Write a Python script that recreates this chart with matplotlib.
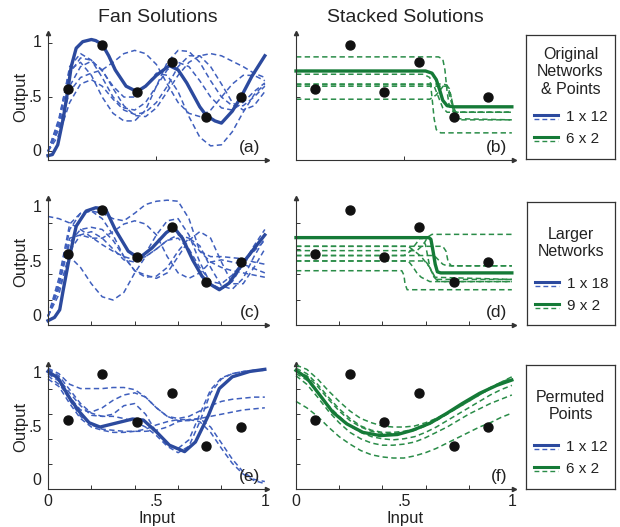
import matplotlib
matplotlib.use("Agg")
import matplotlib.pyplot as plt

plt.rcParams['font.family'] = ['Liberation Sans', 'DejaVu Sans']

# ---------------- data ----------------
pts_x = [0.09, 0.25, 0.41, 0.57, 0.73, 0.89]
pts_y = [0.57, 0.98, 0.55, 0.82, 0.32, 0.50]
pts_y_perm = [0.57, 1.00, 0.55, 0.82, 0.32, 0.50]

grid21 = [0.0, 0.05, 0.1, 0.15, 0.2, 0.25, 0.3, 0.35, 0.4, 0.45, 0.5,
          0.55, 0.6, 0.65, 0.7, 0.75, 0.8, 0.85, 0.9, 0.95, 1.0]

# (a) fan, 1 x 12
a_solid_x = [0, .02, .045, .07, .092, .107, .13, .16, .2, .22, .25, .28, .31, .36, .41,
             .45, .5, .56, .6, .64, .67, .7, .73, .77, .8, .85, .89, .94, 1.0]
a_solid_y = [-0.04, -0.03, 0.06, 0.3, 0.57, 0.78, 0.95, 1.01, 1.03, 1.02, 0.985, 0.88,
             0.75, 0.6, 0.55, 0.6, 0.7, 0.79, 0.75, 0.63, 0.52, 0.41, 0.33, 0.28, 0.26,
             0.37, 0.5, 0.69, 0.88]
a_dash = [
    [0.0, 0.25, 0.72, 0.86, 0.84, 0.74, 0.6, 0.5, 0.5, 0.6, 0.72, 0.7, 0.55, 0.32, 0.13, 0.05, 0.06, 0.18, 0.36, 0.52, 0.62],
    [0.0, 0.2, 0.55, 0.68, 0.72, 0.75, 0.82, 0.9, 0.93, 0.9, 0.8, 0.62, 0.45, 0.35, 0.32, 0.38, 0.5, 0.62, 0.7, 0.7, 0.65],
    [0.0, 0.3, 0.75, 0.82, 0.7, 0.5, 0.35, 0.28, 0.28, 0.38, 0.6, 0.82, 0.93, 0.92, 0.82, 0.65, 0.5, 0.42, 0.42, 0.5, 0.6],
    [0.0, 0.22, 0.6, 0.78, 0.83, 0.75, 0.58, 0.42, 0.33, 0.32, 0.4, 0.55, 0.7, 0.82, 0.88, 0.9, 0.88, 0.83, 0.78, 0.72, 0.68],
    [0.0, 0.15, 0.45, 0.62, 0.66, 0.6, 0.48, 0.38, 0.34, 0.36, 0.45, 0.6, 0.78, 0.88, 0.88, 0.78, 0.62, 0.45, 0.38, 0.42, 0.55],
    [0.0, 0.28, 0.78, 0.9, 0.84, 0.68, 0.5, 0.4, 0.38, 0.45, 0.6, 0.75, 0.82, 0.78, 0.65, 0.5, 0.4, 0.38, 0.45, 0.55, 0.63],
]

# (b) stacked, 6 x 2
b_solid_x = [0, 0.60, 0.63, 0.65, 0.665, 0.68, 0.70, 0.73, 1.0]
b_solid_y = [0.74, 0.74, 0.72, 0.66, 0.57, 0.47, 0.42, 0.41, 0.41]
b_dash = [
    ([0, 0.66, 0.68, 0.69, 0.70, 0.71, 0.73, 1.0], [0.87, 0.87, 0.85, 0.75, 0.55, 0.42, 0.36, 0.36]),
    ([0, 0.59, 0.62, 0.63, 0.64, 0.65, 0.67, 1.0], [0.71, 0.71, 0.68, 0.5, 0.3, 0.2, 0.17, 0.17]),
    ([0, 0.68, 0.70, 0.72, 0.73, 0.75, 1.0], [0.62, 0.62, 0.61, 0.5, 0.35, 0.29, 0.29]),
    ([0, 0.62, 0.64, 0.66, 0.68, 0.70, 1.0], [0.615, 0.615, 0.6, 0.5, 0.4, 0.36, 0.36]),
    ([0, 0.62, 0.65, 0.69, 0.71, 0.73, 0.75, 1.0], [0.48, 0.48, 0.52, 0.62, 0.58, 0.4, 0.3, 0.29]),
    ([0, 0.70, 0.72, 0.74, 1.0], [0.60, 0.60, 0.45, 0.36, 0.36]),
]

# (c) fan, 1 x 18
c_solid_x = [0, .03, .054, .07, .1, .13, .176, .22, .265, .31, .37, .42, .48, .545, .58,
             .62, .667, .71, .74, .79, .835, .9, 1.0]
c_solid_y = [-0.04, -0.01, 0.06, 0.24, 0.557, 0.83, 0.97, 1.0, 0.99, 0.8, 0.6, 0.535,
             0.63, 0.77, 0.82, 0.72, 0.52, 0.37, 0.305, 0.245, 0.305, 0.495, 0.75]
c_dash = [
    [0.92, 0.9, 0.86, 0.8, 0.73, 0.66, 0.6, 0.55, 0.52, 0.55, 0.62, 0.7, 0.75, 0.72, 0.6, 0.5, 0.45, 0.42, 0.4, 0.38, 0.36],
    [0.0, 0.3, 0.8, 0.95, 0.97, 0.95, 0.9, 0.88, 0.95, 1.03, 1.06, 1.07, 1.06, 0.9, 0.6, 0.55, 0.55, 0.54, 0.53, 0.5, 0.48],
    [0.0, 0.25, 0.55, 0.45, 0.3, 0.18, 0.15, 0.22, 0.4, 0.55, 0.62, 0.7, 0.72, 0.62, 0.45, 0.32, 0.3, 0.38, 0.5, 0.6, 0.7],
    [0.0, 0.35, 0.85, 0.95, 0.97, 0.9, 0.75, 0.55, 0.42, 0.38, 0.35, 0.4, 0.55, 0.7, 0.78, 0.72, 0.5, 0.3, 0.3, 0.45, 0.62],
    [0.0, 0.2, 0.6, 0.75, 0.78, 0.72, 0.62, 0.52, 0.5, 0.58, 0.75, 0.88, 0.9, 0.75, 0.5, 0.3, 0.25, 0.32, 0.48, 0.65, 0.8],
    [0.0, 0.3, 0.72, 0.75, 0.72, 0.72, 0.78, 0.85, 0.88, 0.85, 0.75, 0.55, 0.4, 0.35, 0.4, 0.5, 0.52, 0.5, 0.48, 0.44, 0.4],
    [0.0, 0.28, 0.68, 0.8, 0.82, 0.8, 0.7, 0.55, 0.42, 0.36, 0.37, 0.45, 0.6, 0.72, 0.65, 0.45, 0.28, 0.25, 0.35, 0.55, 0.72],
]

# (d) stacked, 9 x 2
d_solid_x = [0, 0.615, 0.625, 0.635, 0.645, 0.655, 0.67, 1.0]
d_solid_y = [0.725, 0.725, 0.71, 0.6, 0.48, 0.41, 0.40, 0.40]
d_dash = [
    ([0, 0.56, 0.59, 0.61, 0.63, 1.0], [0.605, 0.605, 0.66, 0.73, 0.755, 0.755]),
    ([0, 0.68, 0.695, 0.705, 0.72, 1.0], [0.645, 0.645, 0.6, 0.5, 0.465, 0.465]),
    ([0, 0.5, 0.53, 0.56, 0.58, 0.60, 0.62, 0.64, 1.0], [0.56, 0.56, 0.6, 0.68, 0.73, 0.66, 0.45, 0.36, 0.34]),
    ([0, 0.60, 0.62, 0.64, 0.66, 1.0], [0.51, 0.51, 0.45, 0.36, 0.32, 0.32]),
    ([0, 0.49, 0.50, 0.505, 0.515, 1.0], [0.42, 0.42, 0.38, 0.30, 0.245, 0.245]),
    ([0, 0.52, 0.55, 0.58, 0.60, 0.62, 0.65, 1.0], [0.645, 0.645, 0.6, 0.55, 0.5, 0.45, 0.34, 0.34]),
    ([0, 0.64, 0.66, 0.68, 0.70, 1.0], [0.56, 0.56, 0.52, 0.48, 0.465, 0.465]),
    ([0, 0.52, 0.54, 0.56, 0.58, 0.62, 1.0], [0.51, 0.51, 0.46, 0.4, 0.36, 0.32, 0.32]),
]

# (e) fan, permuted points
e_solid_x = [0, .046, .1, .146, .19, .24, .3, .39, .44, .5, .56, .63, .68, .74, .79,
             .85, .93, 1.0]
e_solid_y = [1.02, 0.96, 0.77, 0.64, 0.54, 0.5, 0.53, 0.575, 0.565, 0.455, 0.33,
             0.27, 0.36, 0.61, 0.86, 0.97, 1.02, 1.04]
e_dash = [
    [1.05, 1.0, 0.9, 0.86, 0.86, 0.86, 0.87, 0.87, 0.85, 0.78, 0.68, 0.6, 0.58, 0.6, 0.65, 0.7, 0.74, 0.76, 0.77, 0.78, 0.78],
    [0.98, 0.9, 0.78, 0.66, 0.64, 0.68, 0.75, 0.8, 0.82, 0.78, 0.68, 0.6, 0.56, 0.56, 0.58, 0.6, 0.62, 0.64, 0.66, 0.67, 0.68],
    [1.0, 0.93, 0.75, 0.6, 0.52, 0.48, 0.47, 0.46, 0.46, 0.46, 0.47, 0.5, 0.55, 0.57, 0.58, 0.5, 0.35, 0.2, 0.08, 0.01, -0.01],
    [0.95, 0.88, 0.72, 0.58, 0.5, 0.47, 0.45, 0.45, 0.46, 0.48, 0.52, 0.55, 0.57, 0.57, 0.55, 0.45, 0.3, 0.16, 0.06, 0.0, -0.03],
    [1.04, 0.98, 0.85, 0.72, 0.63, 0.6, 0.62, 0.7, 0.72, 0.62, 0.45, 0.33, 0.3, 0.38, 0.62, 0.85, 0.96, 1.0, 1.02, 1.03, 1.03],
    [1.0, 0.95, 0.82, 0.7, 0.61, 0.6, 0.6, 0.58, 0.55, 0.5, 0.42, 0.32, 0.26, 0.32, 0.55, 0.82, 0.95, 1.0, 1.02, 1.03, 1.04],
]

# (f) stacked, permuted points
f_solid_x = [0, .05, .11, .17, .235, .31, .39, .47, .54, .62, .70, .77, .85, .93, 1.0]
f_solid_y = [1.03, 0.96, 0.8, 0.64, 0.53, 0.45, 0.42, 0.43, 0.47, 0.535, 0.63, 0.72,
             0.815, 0.89, 0.94]
f_dash = [
    [1.08, 1.04, 0.95, 0.84, 0.74, 0.65, 0.58, 0.54, 0.51, 0.5, 0.5, 0.51, 0.54, 0.58, 0.63, 0.68, 0.74, 0.8, 0.86, 0.92, 0.97],
    [1.05, 1.0, 0.9, 0.78, 0.67, 0.58, 0.51, 0.47, 0.45, 0.45, 0.46, 0.48, 0.52, 0.57, 0.63, 0.69, 0.75, 0.81, 0.87, 0.92, 0.96],
    [1.0, 0.94, 0.83, 0.7, 0.6, 0.51, 0.45, 0.41, 0.39, 0.38, 0.39, 0.41, 0.45, 0.5, 0.56, 0.62, 0.68, 0.74, 0.8, 0.85, 0.89],
    [0.98, 0.9, 0.78, 0.65, 0.54, 0.45, 0.39, 0.35, 0.33, 0.33, 0.34, 0.36, 0.4, 0.45, 0.5, 0.56, 0.62, 0.67, 0.72, 0.76, 0.8],
    [0.74, 0.68, 0.6, 0.5, 0.41, 0.34, 0.28, 0.24, 0.22, 0.21, 0.21, 0.23, 0.26, 0.3, 0.35, 0.4, 0.45, 0.5, 0.54, 0.59, 0.63],
    [1.02, 0.98, 0.88, 0.76, 0.65, 0.56, 0.5, 0.46, 0.44, 0.44, 0.45, 0.47, 0.51, 0.56, 0.62, 0.68, 0.74, 0.8, 0.86, 0.91, 0.95],
]

titles = ["Fan Solutions", "Stacked Solutions"]
panel_labels = ["(a)", "(b)", "(c)", "(d)", "(e)", "(f)"]
legend_titles = ["Original\nNetworks\n& Points", "Larger\nNetworks", "Permuted\nPoints"]
legend_entries = [("1 x 12", "6 x 2"), ("1 x 18", "9 x 2"), ("1 x 12", "6 x 2")]

BLUE = "#2c4a9e"
BLUE_D = "#3f5fbd"
GREEN = "#157a37"
GREEN_D = "#2a8c48"
DASH = (0, (3.5, 2.2))

W, H = 620, 527
fig = plt.figure(figsize=(W / 100, H / 100), dpi=100)


def px_axes(l, t, r, b):
    return fig.add_axes([l / W, 1 - b / H, (r - l) / W, (b - t) / H])


YLIM = (-0.08, 1.09)
XLIM = (0, 1.01)


def style_axes(ax, left_col, bottom_row, row):
    ax.set_xlim(*XLIM)
    ax.set_ylim(*YLIM)
    for s in ["top", "right"]:
        ax.spines[s].set_visible(False)
    for s in ["left", "bottom"]:
        ax.spines[s].set_linewidth(0.8)
        ax.spines[s].set_color("#333333")
    ax.tick_params(direction="in", length=3, width=0.7, colors="#333333",
                   labelsize=11, labelcolor="#222222", pad=3)
    if row == 0:
        xt = [0.5]
        yt = [0.5, 0.75] if not left_col else [0, 0.5, 1]
    else:
        xt = [0.2, 0.4, 0.6, 0.8]
        yt = [YLIM[0] + k * (YLIM[1] - YLIM[0]) / 5 for k in range(1, 5)]
    ax.set_xticks(xt)
    ax.set_xticklabels([])
    ax.set_yticks(yt)
    ax.set_yticklabels([])
    if left_col:
        for v, s in [(0, "0"), (0.5, ".5"), (1, "1")]:
            ax.text(-0.03, v, s, transform=ax.get_yaxis_transform(), ha="right",
                    va="center", fontsize=11.5, color="#222222")
        ax.set_ylabel("Output", fontsize=12, labelpad=11, color="#222222")
    if bottom_row:
        for v, s in [(0, "0"), (0.5, ".5"), (1, "1")]:
            ax.text(v, -0.04, s, transform=ax.get_xaxis_transform(), ha="center",
                    va="top", fontsize=11.5, color="#222222")
        ax.set_xlabel("Input", fontsize=12, labelpad=13, color="#222222")
    # arrow heads
    ax.plot([0], [1], marker="^", ms=3, color="#333333", transform=ax.transAxes,
            clip_on=False)
    ax.plot([1], [0], marker=">", ms=3, color="#333333", transform=ax.transAxes,
            clip_on=False)


rows_px = [(33, 160), (198, 325), (364, 489)]
left_px = (48, 267)
right_px = (296, 514)
legend_px = [(526, 35, 615, 159), (527, 202, 615, 325), (526, 365, 615, 489)]

fan_data = [(a_solid_x, a_solid_y, a_dash, pts_y),
            (c_solid_x, c_solid_y, c_dash, pts_y),
            (e_solid_x, e_solid_y, e_dash, pts_y_perm)]
stack_data = [(b_solid_x, b_solid_y, [(x, y) for x, y in b_dash], pts_y),
              (d_solid_x, d_solid_y, [(x, y) for x, y in d_dash], pts_y),
              (f_solid_x, f_solid_y, [(grid21, y) for y in f_dash], pts_y_perm)]

for r in range(3):
    t, b = rows_px[r]
    axL = px_axes(left_px[0], t, left_px[1], b)
    axR = px_axes(right_px[0], t, right_px[1], b)
    style_axes(axL, True, r == 2, r)
    style_axes(axR, False, r == 2, r)

    sx, sy, dashes, py = fan_data[r]
    for d in dashes:
        axL.plot(grid21, d, ls=DASH, color=BLUE_D, lw=1.1, clip_on=False)
    axL.plot(sx, sy, color=BLUE, lw=2.4, solid_joinstyle="round", clip_on=False)
    axL.scatter(pts_x, py, s=42, color="#111111", zorder=5, clip_on=False)

    sx, sy, dashes, py = stack_data[r]
    for dx, dy in dashes:
        axR.plot(dx, dy, ls=DASH, color=GREEN_D, lw=1.1, clip_on=False)
    axR.plot(sx, sy, color=GREEN, lw=2.4, solid_joinstyle="round", clip_on=False)
    axR.scatter(pts_x, py, s=42, color="#111111", zorder=5, clip_on=False)

    axL.text(0.97, 0.04, panel_labels[2 * r], transform=axL.transAxes, ha="right",
             va="bottom", fontsize=12.5, color="#222222")
    axR.text(0.97, 0.04, panel_labels[2 * r + 1], transform=axR.transAxes, ha="right",
             va="bottom", fontsize=12.5, color="#222222")

    if r == 0:
        axL.set_title(titles[0], fontsize=14, pad=8, color="#222222")
        axR.set_title(titles[1], fontsize=14, pad=8, color="#222222")

    # legend box
    l, tt, rr, bb = legend_px[r]
    lax = px_axes(l, tt, rr, bb)
    lax.set_xlim(0, 1)
    lax.set_ylim(0, 1)
    lax.set_xticks([])
    lax.set_yticks([])
    for s in lax.spines.values():
        s.set_linewidth(0.9)
        s.set_color("#333333")
    hpx = bb - tt
    title = legend_titles[r]
    nlines = title.count("\n") + 1
    top_y = 1 - 12 / hpx if nlines == 3 else 1 - 25 / hpx
    lax.text(0.5, top_y, title, ha="center", va="top", fontsize=11.5,
             linespacing=1.2, color="#222222", transform=lax.transAxes)
    e1, e2 = legend_entries[r]
    y1 = 1 - 82 / hpx
    y2 = 1 - 104 / hpx
    x0, x1 = 8 / 89, 32 / 89
    for yy, col, cold, lab in [(y1, BLUE, BLUE_D, e1), (y2, GREEN, GREEN_D, e2)]:
        lax.plot([x0, x1], [yy + 0.02, yy + 0.02], color=col, lw=2.2)
        lax.plot([x0, x1], [yy - 0.02, yy - 0.02], color=cold, lw=1.0, ls=DASH)
        lax.text(40 / 89, yy, lab, ha="left", va="center", fontsize=11,
                 color="#222222")

fig.savefig("out.png", dpi=100)
